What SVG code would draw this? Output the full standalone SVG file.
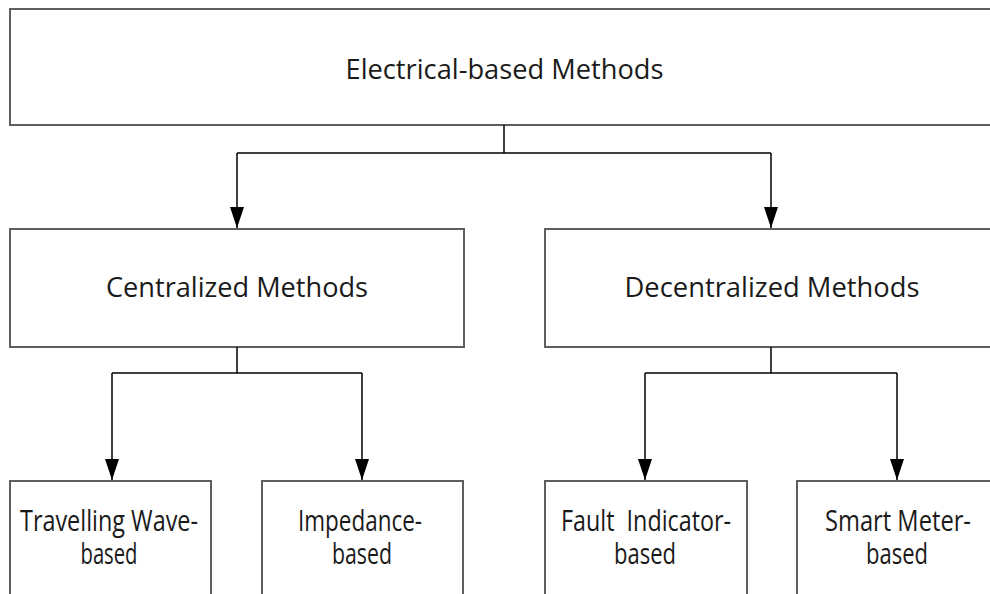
<svg xmlns="http://www.w3.org/2000/svg" width="990" height="594" viewBox="0 0 990 594">
  <style>
    .box { fill: #ffffff; stroke: #5e5e5e; stroke-width: 2; }
    .lbl { font-family: "Open Sans", "Noto Sans", "Liberation Sans", sans-serif; font-size: 28px; fill: #1a1a1a; text-anchor: middle; }
    .leaf { font-size: 28.5px; }
    .conn { fill: none; stroke: #000000; stroke-width: 1.5; }
  </style>
  <defs>
    <marker id="arrow" markerUnits="userSpaceOnUse" markerWidth="21" markerHeight="14" refX="21" refY="7" orient="auto" viewBox="0 0 21 14">
      <path d="M0,0 L21,7 L0,14 Z" fill="#000000"/>
    </marker>
  </defs>
  <rect width="990" height="594" fill="#ffffff"/>

  <!-- root -->
  <g id="electrical-based">
    <rect class="box" x="10" y="9" width="992" height="116"/>
    <text class="lbl" x="504.5" y="79" textLength="318" lengthAdjust="spacingAndGlyphs">Electrical-based Methods</text>
  </g>

  <!-- second level -->
  <g id="centralized">
    <rect class="box" x="10" y="229" width="454" height="118"/>
    <text class="lbl" x="237" y="297" textLength="262" lengthAdjust="spacingAndGlyphs">Centralized Methods</text>
  </g>
  <g id="decentralized">
    <rect class="box" x="545" y="229" width="457" height="118"/>
    <text class="lbl" x="772" y="297" textLength="295" lengthAdjust="spacingAndGlyphs">Decentralized Methods</text>
  </g>

  <!-- leaves -->
  <g id="travelling-wave">
    <rect class="box" x="10" y="481" width="201" height="130"/>
    <text class="lbl leaf" x="109" y="531" textLength="178" lengthAdjust="spacingAndGlyphs">Travelling Wave-</text>
    <text class="lbl leaf" x="109" y="564" textLength="57" lengthAdjust="spacingAndGlyphs">based</text>
  </g>
  <g id="impedance">
    <rect class="box" x="262" y="481" width="201" height="130"/>
    <text class="lbl leaf" x="360" y="531" textLength="124" lengthAdjust="spacingAndGlyphs">Impedance-</text>
    <text class="lbl leaf" x="362" y="564" textLength="60" lengthAdjust="spacingAndGlyphs">based</text>
  </g>
  <g id="fault-indicator">
    <rect class="box" x="545" y="481" width="202" height="130"/>
    <text class="lbl leaf" x="646" y="531" textLength="170" lengthAdjust="spacingAndGlyphs" xml:space="preserve">Fault  Indicator-</text>
    <text class="lbl leaf" x="645" y="564" textLength="62" lengthAdjust="spacingAndGlyphs">based</text>
  </g>
  <g id="smart-meter">
    <rect class="box" x="797" y="481" width="202" height="130"/>
    <text class="lbl leaf" x="898" y="531" textLength="146" lengthAdjust="spacingAndGlyphs">Smart Meter-</text>
    <text class="lbl leaf" x="897" y="564" textLength="62" lengthAdjust="spacingAndGlyphs">based</text>
  </g>

  <!-- connectors -->
  <g id="connectors">
    <path class="conn" d="M504,125 V153 M237,153 H771"/>
    <path class="conn" d="M237,153 V228" marker-end="url(#arrow)"/>
    <path class="conn" d="M771,153 V228" marker-end="url(#arrow)"/>

    <path class="conn" d="M237,347 V373 M112,373 H362"/>
    <path class="conn" d="M112,373 V480" marker-end="url(#arrow)"/>
    <path class="conn" d="M362,373 V480" marker-end="url(#arrow)"/>

    <path class="conn" d="M771,347 V373 M645,373 H897"/>
    <path class="conn" d="M645,373 V480" marker-end="url(#arrow)"/>
    <path class="conn" d="M897,373 V480" marker-end="url(#arrow)"/>
  </g>
</svg>
